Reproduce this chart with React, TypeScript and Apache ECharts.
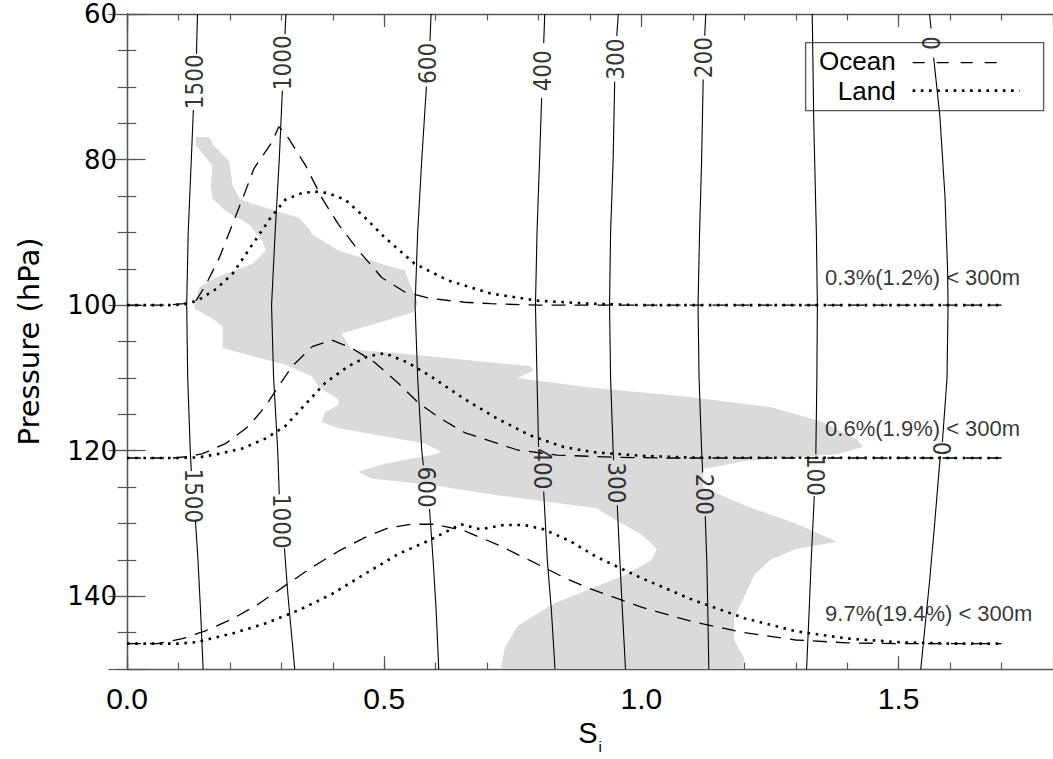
import React, { useEffect, useRef } from "react";
import * as echarts from "echarts";

const FONT = "'Liberation Sans', Arial, Helvetica, sans-serif";
const WIDE_FONT = "'DejaVu Sans', 'Liberation Sans', sans-serif";
const NARROW_FONT = "'Liberation Sans Narrow', 'DejaVu Sans Condensed', 'Liberation Sans', sans-serif";

// axis ranges / ticks
const X_MIN = 0;
const X_MAX = 1.8;
const Y_MIN = 60;
const Y_MAX = 150;
const X_MAJOR = 0.5;
const X_MINOR = 0.1;
const Y_MAJOR = 20;
const Y_MINOR = 5;

// PDF curves (S_i, pressure) — baselines at 100, 121, 146.5 hPa
const OCEAN_1 = [[0,100],[0.08,100],[0.11,99.8],[0.135,99.3],[0.154,97.1],[0.18,93.4],[0.205,88.9],[0.225,85.3],[0.247,81.2],[0.282,77.6],[0.295,75.5],[0.308,76.4],[0.347,80.8],[0.379,85.3],[0.411,88.9],[0.45,92.5],[0.495,96.2],[0.54,98.2],[0.591,99.1],[0.656,99.6],[0.707,99.8],[0.8,100],[1.7,100]];
const LAND_1 = [[0,100],[0.09,100],[0.12,99.8],[0.141,99.2],[0.173,97.8],[0.205,95.7],[0.231,93],[0.257,90.3],[0.279,88],[0.308,85.5],[0.34,84.6],[0.366,84.4],[0.39,84.6],[0.424,85.5],[0.463,88],[0.501,90.7],[0.559,94.3],[0.624,96.6],[0.707,98.4],[0.8,99.4],[0.9,99.8],[1.0,100],[1.7,100]];
const OCEAN_2 = [[0,121],[0.09,121],[0.12,120.8],[0.147,120.4],[0.192,119],[0.237,116.6],[0.27,113.8],[0.295,111.1],[0.321,108.4],[0.36,105.7],[0.398,104.8],[0.437,105.9],[0.482,107.9],[0.527,110.7],[0.566,113.4],[0.61,115.6],[0.656,117.5],[0.72,119],[0.759,119.9],[0.836,120.6],[0.95,120.9],[1.05,121],[1.7,121]];
const LAND_2 = [[0,121],[0.1,121],[0.141,120.9],[0.18,120.4],[0.224,119.7],[0.27,118.3],[0.308,116.6],[0.347,113.6],[0.385,110.7],[0.43,108.4],[0.469,107],[0.501,106.6],[0.546,107.9],[0.591,109.8],[0.656,112.9],[0.72,115.6],[0.784,117.9],[0.849,119.5],[0.907,120.2],[1.0,120.7],[1.1,120.95],[1.7,121]];
const OCEAN_3 = [[0,146.5],[0.06,146.5],[0.108,145.8],[0.154,144.7],[0.205,143.1],[0.257,141],[0.308,138.5],[0.36,136],[0.411,133.8],[0.463,131.9],[0.508,130.6],[0.553,130.1],[0.598,130.1],[0.656,131],[0.72,132.9],[0.784,135.1],[0.849,137.4],[0.894,138.8],[1.0,141.5],[1.1,143.5],[1.2,145],[1.3,146],[1.4,146.4],[1.5,146.5],[1.7,146.5]];
const LAND_3 = [[0,146.5],[0.1,146.5],[0.135,146.3],[0.205,145.1],[0.27,143.7],[0.334,141.9],[0.398,139.7],[0.463,136.9],[0.527,134.2],[0.585,132.4],[0.624,131],[0.649,130.1],[0.687,130.8],[0.733,130.2],[0.772,130.2],[0.81,130.8],[0.861,132.4],[0.913,134.6],[1.0,137.5],[1.1,140.5],[1.2,143],[1.3,144.8],[1.4,145.8],[1.5,146.3],[1.6,146.5],[1.7,146.5]];

// shaded region outline (S_i, pressure)
const SHADE = [
  [0.134,76.9],[0.16,76.9],[0.168,78],[0.199,80.3],[0.205,83.5],[0.22,85.5],[0.282,86.9],[0.334,88],[0.353,89.4],[0.36,90.3],[0.411,92.5],[0.494,94.3],[0.54,95.2],[0.55,97.1],[0.566,99.8],[0.555,101],[0.494,102.3],[0.417,103.9],[0.436,106.1],[0.527,106.6],[0.784,108.4],[0.79,109],[0.759,110],[0.9,111.3],[1.08,112.5],[1.25,114],[1.35,116],[1.42,118.5],[1.43,119.5],[1.38,120.5],[1.2,121.4],[1.12,122.5],[1.12,125],[1.2,127.5],[1.3,130],[1.38,132.5],[1.3,133.5],[1.25,135],[1.22,137],[1.2,140],[1.18,143],[1.18,146],[1.2,148.5],[1.197,150],
  [0.726,150],[0.735,147],[0.76,144],[0.83,141],[0.9,139],[0.97,137],[1.02,135],[1.03,133.5],[1.0,131.5],[0.95,129.5],[0.913,127.9],[0.72,126.1],[0.591,124.7],[0.475,123.8],[0.45,122.9],[0.501,121.8],[0.592,120.6],[0.611,120.2],[0.579,119],[0.411,116.9],[0.379,116.1],[0.385,114.7],[0.411,113.7],[0.411,112.9],[0.373,111.3],[0.36,109.8],[0.308,108.2],[0.186,105.9],[0.186,103],[0.17,102],[0.131,100.5],[0.131,99.8],[0.141,97.5],[0.173,96.2],[0.244,94.3],[0.27,92.5],[0.263,91.2],[0.237,88.9],[0.192,87.1],[0.166,85.3],[0.163,83.5],[0.166,80.8],[0.134,78]
];

// contour lines (segments split where labels sit)
const CONTOUR_SEGMENTS = [
  [[0.137,60],[0.135,65.5]],
  [[0.129,73.2],[0.125,80],[0.119,90],[0.116,100],[0.118,110],[0.123,120],[0.125,122.8]],
  [[0.133,129.6],[0.138,135],[0.143,142],[0.148,150]],
  [[0.309,60],[0.307,62.8]],
  [[0.302,70.5],[0.296,80],[0.288,90],[0.281,100],[0.285,110],[0.293,120],[0.296,126]],
  [[0.306,133.4],[0.313,140],[0.326,150]],
  [[0.591,60],[0.589,63.7]],
  [[0.582,70],[0.573,80],[0.565,90],[0.56,100],[0.565,110],[0.573,120],[0.576,122]],
  [[0.588,128],[0.595,135],[0.601,142],[0.606,150]],
  [[0.812,60],[0.81,64]],
  [[0.806,71.5],[0.802,80],[0.797,90],[0.794,100],[0.797,110],[0.8,119.5]],
  [[0.81,125.6],[0.817,135],[0.825,142],[0.832,150]],
  [[0.955,60],[0.952,63]],
  [[0.948,69.3],[0.945,80],[0.94,90],[0.938,100],[0.94,110],[0.945,120],[0.946,121.3]],
  [[0.953,127.5],[0.958,135],[0.963,142],[0.969,150]],
  [[1.125,60],[1.123,63]],
  [[1.12,69],[1.117,80],[1.113,90],[1.11,100],[1.112,110],[1.117,120],[1.119,123]],
  [[1.124,129],[1.127,135],[1.129,142],[1.131,150]],
  [[1.332,60],[1.335,75],[1.34,90],[1.342,100],[1.341,110],[1.339,120.5]],
  [[1.336,126.2],[1.33,135],[1.326,142],[1.321,150]],
  [[1.56,60],[1.563,62]],
  [[1.568,66],[1.58,74],[1.59,85],[1.595,95],[1.596,100],[1.594,110],[1.585,118.8]],
  [[1.581,120.7],[1.577,124],[1.57,130],[1.56,138],[1.55,145],[1.543,150]]
];

const CONTOUR_LABELS_TOP = [
  { name: "1500", value: [0.132, 69.3] },
  { name: "1000", value: [0.303, 66.7] },
  { name: "600", value: [0.585, 66.8] },
  { name: "400", value: [0.808, 67.8] },
  { name: "300", value: [0.95, 66.2] },
  { name: "200", value: [1.121, 66] },
  { name: "0", value: [1.565, 64] }
];
const CONTOUR_LABELS_BOTTOM = [
  { name: "1500", value: [0.129, 126.2] },
  { name: "1000", value: [0.30, 129.7] },
  { name: "600", value: [0.582, 125] },
  { name: "400", value: [0.806, 122.5] },
  { name: "300", value: [0.95, 124.4] },
  { name: "200", value: [1.121, 126] },
  { name: "100", value: [1.337, 123.4] },
  { name: "0", value: [1.583, 119.7] }
];

const ANNOTATIONS = [
  { name: "0.3%(1.2%) < 300m", value: [1.357, 96.2] },
  { name: "0.6%(1.9%) < 300m", value: [1.357, 117] },
  { name: "9.7%(19.4%) < 300m", value: [1.357, 142.4] }
];

const LEGEND_NAMES = ["Ocean", "Land"];

export default function App() {
  const ref = useRef<HTMLDivElement>(null);
  useEffect(() => {
    if (!ref.current) return;
    const chart = echarts.init(ref.current, null, { renderer: "svg" });
    const axisColor = "#555";
    const isMult = (v: number, m: number) => Math.abs(v / m - Math.round(v / m)) < 1e-6;

    const xBase = {
      type: "value", min: X_MIN, max: X_MAX, gridIndex: 0,
      splitLine: { show: false },
    };
    const yBase = {
      type: "value", min: Y_MIN, max: Y_MAX, inverse: true, gridIndex: 0,
      splitLine: { show: false },
    };

    const xAxis: any[] = [
      {
        ...xBase, position: "bottom", interval: X_MINOR,
        axisLine: { show: true, lineStyle: { color: axisColor, width: 1.3 } },
        axisTick: { inside: true, length: 6.5, lineStyle: { color: axisColor, width: 1.2 } },
        axisLabel: {
          interval: 0, showMaxLabel: false, fontFamily: FONT, fontSize: 30, color: "#000", margin: 14,
          formatter: (v: number) => (isMult(v, X_MAJOR) ? v.toFixed(1) : ""),
        },
        name: "{s|S}{i|i}", nameLocation: "middle", nameGap: 44,
        nameTextStyle: {
          color: "#000",
          rich: {
            s: { fontFamily: FONT, fontSize: 29, color: "#000", lineHeight: 36, verticalAlign: "top" },
            i: { fontFamily: FONT, fontSize: 15, color: "#000", lineHeight: 15, verticalAlign: "bottom", padding: [0, 0, 0, 1] },
          },
        },
      },
      {
        ...xBase, position: "bottom", interval: X_MAJOR,
        axisLine: { show: false },
        axisTick: { inside: true, length: 13, lineStyle: { color: axisColor, width: 1.2 } },
        axisLabel: { show: false },
      },
      {
        ...xBase, position: "top", interval: X_MINOR,
        axisLine: { show: true, lineStyle: { color: axisColor, width: 1.3 } },
        axisTick: { inside: true, length: 6.5, lineStyle: { color: axisColor, width: 1.2 } },
        axisLabel: { show: false },
      },
      {
        ...xBase, position: "top", interval: X_MAJOR,
        axisLine: { show: false },
        axisTick: { inside: true, length: 13, lineStyle: { color: axisColor, width: 1.2 } },
        axisLabel: { show: false },
      },
    ];

    const yAxis: any[] = [
      {
        ...yBase, position: "left", interval: Y_MINOR,
        axisLine: { show: true, lineStyle: { color: axisColor, width: 1.3 } },
        axisTick: { inside: true, length: 9.3, lineStyle: { color: axisColor, width: 1.2 } },
        axisLabel: {
          interval: 0, showMaxLabel: false, fontFamily: WIDE_FONT, fontSize: 26, color: "#000", margin: 10,
          formatter: (v: number) => (isMult(v, Y_MAJOR) ? String(v) : ""),
        },
        name: "Pressure (hPa)", nameLocation: "middle", nameGap: 84,
        nameTextStyle: { fontFamily: WIDE_FONT, fontSize: 29, color: "#000" },
      },
      {
        ...yBase, position: "left", interval: Y_MAJOR,
        axisLine: { show: false },
        axisTick: { inside: true, length: 18.6, lineStyle: { color: axisColor, width: 1.2 } },
        axisLabel: { show: false },
      },
      {
        ...yBase, position: "right", interval: Y_MINOR,
        axisLine: { show: true, lineStyle: { color: axisColor, width: 1.3 } },
        axisTick: { inside: true, length: 9.3, lineStyle: { color: axisColor, width: 1.2 } },
        axisLabel: { show: false },
      },
      {
        ...yBase, position: "right", interval: Y_MAJOR,
        axisLine: { show: false },
        axisTick: { inside: true, length: 18.6, lineStyle: { color: axisColor, width: 1.2 } },
        axisLabel: { show: false },
      },
    ];

    const series: any[] = [];

    series.push({
      type: "custom",
      name: "shade",
      silent: true,
      z: 1,
      data: SHADE,
      encode: { x: 0, y: 1 },
      renderItem: (params: any, api: any) => {
        if (params.dataIndex !== 0) return null;
        const pts = SHADE.map((d) => api.coord(d));
        return { type: "polygon", shape: { points: pts }, style: { fill: "#dadada", stroke: "none" } };
      },
    });

    CONTOUR_SEGMENTS.forEach((seg, i) => {
      series.push({
        type: "line", name: "contour" + i, data: seg, symbol: "none", silent: true, z: 3,
        lineStyle: { color: "#000", width: 1.1 },
      });
    });

    const labelSeries = (data: any[], rotate: number) => ({
      type: "scatter", symbolSize: 0, silent: true, z: 4,
      data,
      label: {
        show: true, position: "inside", rotate, formatter: (p: any) => p.name,
        fontFamily: NARROW_FONT, fontSize: 24, color: "#000",
      },
    });
    series.push(labelSeries(CONTOUR_LABELS_TOP, 90));
    series.push(labelSeries(CONTOUR_LABELS_BOTTOM, -90));

    [OCEAN_1, OCEAN_2, OCEAN_3].forEach((d, i) => {
      series.push({
        type: "line", name: "Ocean" + i, data: d, symbol: "none", silent: true, z: 5,
        lineStyle: { color: "#000", width: 1.3, type: [14, 9] },
      });
    });
    [LAND_1, LAND_2, LAND_3].forEach((d, i) => {
      series.push({
        type: "line", name: "Land" + i, data: d, symbol: "none", silent: true, z: 5,
        lineStyle: { color: "#000", width: 2.6, type: [2.6, 5.6] },
      });
    });

    series.push({
      type: "scatter", symbolSize: 0, silent: true, z: 6,
      data: ANNOTATIONS,
      label: {
        show: true, position: "right", distance: 0, formatter: (p: any) => p.name,
        fontFamily: FONT, fontSize: 22, color: "#000",
      },
    });

    const option: any = {
      animation: false,
      backgroundColor: "#fff",
      grid: { left: 127, top: 14, width: 934, height: 662, containLabel: false },
      xAxis,
      yAxis,
      series,
      graphic: [
        {
          type: "group", z: 100, left: 805, top: 42,
          children: [
            { type: "rect", shape: { x: 0, y: 0, width: 238, height: 68 }, style: { fill: "#fff", stroke: "#555", lineWidth: 1.3 } },
            { type: "text", x: 90, y: 18, style: { text: LEGEND_NAMES[0], font: `26px ${FONT}`, lineHeight: 22, fill: "#000", align: "right", verticalAlign: "middle" } },
            { type: "text", x: 90, y: 48, style: { text: LEGEND_NAMES[1], font: `26px ${FONT}`, lineHeight: 22, fill: "#000", align: "right", verticalAlign: "middle" } },
            { type: "line", shape: { x1: 107, y1: 20, x2: 200, y2: 20 }, style: { stroke: "#000", lineWidth: 1.3, lineDash: [12, 12] } },
            { type: "line", shape: { x1: 107, y1: 48, x2: 214, y2: 48 }, style: { stroke: "#000", lineWidth: 2.6, lineDash: [2.6, 5.6] } },
          ],
        },
      ],
    };
    chart.setOption(option);
    return () => chart.dispose();
  }, []);
  return (
    <div
      ref={ref}
      style={{ position: "absolute", left: 0, top: 0, width: 1053, height: 759, background: "#fff" }}
    />
  );
}
